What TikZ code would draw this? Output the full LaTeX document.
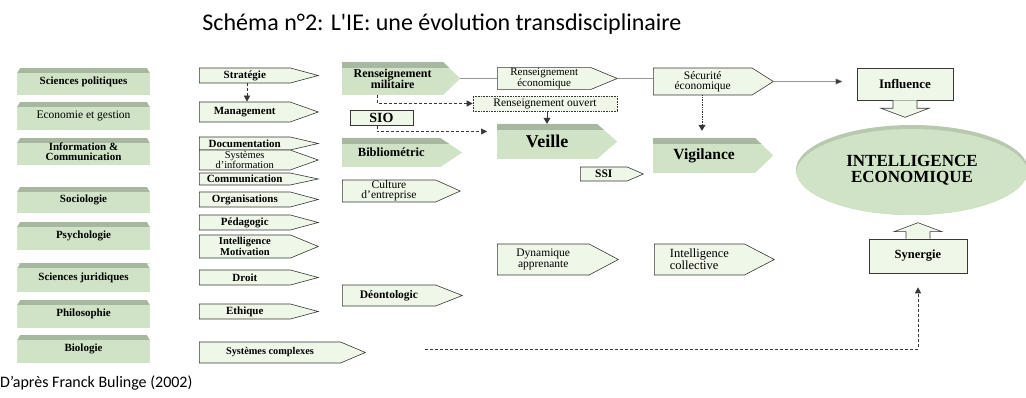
\documentclass[tikz,border=0pt]{standalone}
\usepackage{fontspec}
\usepackage{tikz}
\usepackage{xcolor}
\setmainfont{Liberation Serif}
\newfontfamily\calfont{Carlito}
\usetikzlibrary{calc,shapes.symbols,shapes.geometric,arrows.meta}
\definecolor{boxgreen}{RGB}{208,227,198}
\definecolor{bevelgreen}{RGB}{168,184,160}
\definecolor{palegreen}{RGB}{238,247,232}
\definecolor{edgegray}{RGB}{55,55,55}
\definecolor{linegray}{RGB}{150,150,150}

\begin{document}
\begin{tikzpicture}[x=1pt,y=-1pt,
        discnode/.style={rectangle, fill=boxgreen, minimum width=133pt, inner sep=0.5pt, align=center, font=\bfseries\fontsize{11}{10}\selectfont,
            path picture={\fill[bevelgreen] (path picture bounding box.north west) rectangle ([yshift=-5pt]path picture bounding box.north east);
                \fill[white] (path picture bounding box.north west) -- ++(3pt,0) -- ++(-3pt,-5pt) -- cycle;
                \fill[white] (path picture bounding box.north east) -- ++(-3pt,0) -- ++(3pt,-5pt) -- cycle;}},
        pointnode/.style={signal, signal to=east, anchor=west, fill=boxgreen, inner sep=0.5pt, align=center,
            path picture={\fill[bevelgreen] (path picture bounding box.north west) rectangle ([yshift=-6pt]path picture bounding box.north east);}},
        pentnode/.style={signal, signal to=east, anchor=west, draw=edgegray, fill=palegreen, line width=0.6pt, inner sep=0.5pt, align=center, font=\bfseries\fontsize{11}{10}\selectfont},
        plainbox/.style={rectangle, draw=edgegray, fill=palegreen, line width=0.6pt, inner sep=0.5pt, align=center}]
            \useasboundingbox (0,0) rectangle (1026,398);

            \node[font=\calfont\fontsize{24}{28}\selectfont] (T) at (442,24) {Schéma n°2: L\textquotesingle IE: une évolution transdisciplinaire};
            \node[anchor=west, inner sep=0pt, font=\calfont\fontsize{16}{19}\selectfont] (F) at (0,383) {D’après Franck Bulinge (2002)};

            \node[discnode, minimum height=27pt] (SP) at (83.5,81.5) {Sciences politiques};
            \node[discnode, minimum height=28pt, font=\fontsize{11.5}{12}\selectfont] (EG) at (83.5,116) {Economie et gestion};
            \node[discnode, minimum height=27pt] (IC) at (83.5,151.5) {Information \&\\Communication};
            \node[discnode, minimum height=26pt] (SO) at (83.5,200) {Sociologie};
            \node[discnode, minimum height=28pt] (PS) at (83.5,236) {Psychologie};
            \node[discnode, minimum height=29pt] (SJ) at (83.5,278) {Sciences juridiques};
            \node[discnode, minimum height=28pt] (PH) at (83.5,314) {Philosophie};
            \node[discnode, minimum height=28pt] (BI) at (83.5,349) {Biologie};

            \node[pentnode, minimum width=119pt, minimum height=15pt, signal pointer angle=30] (ST) at (199,75.5) {Stratégie};
            \node[pentnode, minimum width=119pt, minimum height=20pt, signal pointer angle=39] (MA) at (199,112) {Management};
            \node[pentnode, minimum width=119pt, minimum height=13pt, signal pointer angle=26] (DO) at (199,143.5) {Documentation};
            \node[pentnode, minimum width=119pt, minimum height=20pt, signal pointer angle=39, font=\fontsize{10.5}{9}\selectfont] (SI) at (199,160) {Systèmes\\d’information};
            \node[pentnode, minimum width=119pt, minimum height=12pt, signal pointer angle=24] (CM) at (199,179) {Communication};
            \node[pentnode, minimum width=119pt, minimum height=15pt, signal pointer angle=30] (OR) at (199,199.5) {Organisations};
            \node[pentnode, minimum width=119pt, minimum height=15pt, signal pointer angle=30] (PE) at (199,222.5) {Pédagogic};
            \node[pentnode, minimum width=119pt, minimum height=23pt, signal pointer angle=45, font=\bfseries\fontsize{10.5}{9.5}\selectfont] (IM) at (199,246.5) {Intelligence\\Motivation};
            \node[pentnode, minimum width=119pt, minimum height=15pt, signal pointer angle=30] (DR) at (199,277.5) {Droit};
            \node[pentnode, minimum width=119pt, minimum height=15pt, signal pointer angle=30] (ET) at (199,311.5) {Ethique};
            \node[pentnode, minimum width=166pt, minimum height=21pt, signal pointer angle=46, font=\bfseries\fontsize{10.3}{10}\selectfont] (SC) at (199,352.5) {Systèmes complexes};

            \node[pointnode, minimum width=118pt, minimum height=33pt, signal pointer angle=88, font=\bfseries\fontsize{12}{11}\selectfont] (RM) at (342,78.5) {Renseignement\\militaire};
            \node[plainbox, minimum width=63pt, minimum height=15pt, font=\bfseries\fontsize{14}{14}\selectfont] (SIO) at (381.5,118) {SIO};
            \node[pointnode, minimum width=120pt, minimum height=29pt, signal pointer angle=67, font=\bfseries\fontsize{12.5}{12}\selectfont] (BB) at (342,152.5) {Bibliométric};
            \node[pentnode, minimum width=118pt, minimum height=22pt, signal pointer angle=48, font=\fontsize{11.5}{10}\selectfont] (CE) at (342,191) {Culture\\d’entreprise};
            \node[pentnode, minimum width=120pt, minimum height=21pt, signal pointer angle=43, font=\bfseries\fontsize{11.5}{11}\selectfont] (DE) at (342,295.5) {Déontologic};

            \node[pentnode, minimum width=120pt, minimum height=21pt, signal pointer angle=45, font=\fontsize{11}{9.5}\selectfont] (RE) at (497,78.5) {Renseignement\\économique};
            \node[plainbox, densely dotted, minimum width=144pt, minimum height=15pt, font=\fontsize{11.5}{11}\selectfont] (RO) at (545,103.5) {Renseignement ouvert};
            \node[pointnode, minimum width=120pt, minimum height=35pt, signal pointer angle=82, font=\bfseries\fontsize{18}{18}\selectfont] (VE) at (497,141.5) {Veille};
            \node[pentnode, minimum width=63pt, minimum height=14pt, signal pointer angle=47, font=\bfseries\fontsize{11.5}{11}\selectfont] (SS) at (580,174) {SSI};
            \node[pentnode, minimum width=121pt, minimum height=31pt, signal pointer angle=56, font=\fontsize{11.5}{11}\selectfont] (DA) at (497,259.5) {Dynamique\\apprenante};

            \node[pentnode, minimum width=120pt, minimum height=27pt, signal pointer angle=65, font=\fontsize{11.5}{10.5}\selectfont] (SE) at (653,81.5) {Sécurité\\économique};
            \node[pointnode, minimum width=120pt, minimum height=35pt, signal pointer angle=88, font=\bfseries\fontsize{15.5}{15}\selectfont] (VG) at (653,155.5) {Vigilance};
            \node[pentnode, minimum width=120pt, minimum height=31pt, signal pointer angle=55, align=left, font=\fontsize{12.5}{12}\selectfont] (CO) at (654,259.5) {Intelligence\\collective};

            \node[plainbox, minimum width=96pt, minimum height=32pt, font=\bfseries\fontsize{13}{13}\selectfont] (IN) at (905,84) {Influence};
            \node[ellipse, fill=bevelgreen!60!boxgreen, minimum width=232pt, minimum height=90pt, font=\bfseries\fontsize{17}{16}\selectfont, align=center,
                path picture={\fill[boxgreen] ([yshift=-4pt]path picture bounding box.center) ellipse (116pt and 45pt);}] (IE) at (912,170) {INTELLIGENCE\\ECONOMIQUE};
            \node[plainbox, minimum width=98pt, minimum height=34pt, font=\bfseries\fontsize{12.5}{12}\selectfont] (SY) at (918,256) {Synergie};
            \coordinate (DS) at (425,349);

            \tikzset{dasharrow/.style={densely dashed, draw=edgegray, line width=0.6pt, -{Triangle[length=6pt,width=6pt]}}}
            \tikzset{blockarrow/.style={draw=edgegray, fill=palegreen, line width=0.6pt}}

            \draw[dasharrow] (ST.south -| 247,0) -- (MA.north -| 247,0);
            \draw[dasharrow] (RM.south -| 377,0) |- (RO.west);
            \draw[dasharrow, shorten >=10pt] (SIO.south -| 377,0) |- ([yshift=10pt]VE.west);
            \draw[draw=edgegray, line width=0.8pt, -{Triangle[length=6pt,width=7pt]}] (RO.south -| 547,0) -- (VE.north -| 547,0);
            \draw[densely dotted, draw=edgegray, line width=0.7pt, shorten >=7pt, -{Triangle[length=6pt,width=7pt]}] (SE.south -| 702,0) -- (VG.north -| 702,0);
            \draw[linegray, line width=0.4pt] (RM.east) -- (RE.west);
            \draw[linegray, line width=0.4pt] (RE.east) -- (RE.east -| SE.west);
            \draw[linegray, line width=0.4pt, shorten >=14pt, -{Triangle[length=7pt,width=6pt, fill=edgegray]}] (SE.east) -- (SE.east -| IN.west);
            \draw[dasharrow, shorten >=14pt] (DS) -| (SY.south);

            \draw[blockarrow] ([xshift=-12pt]IN.south) -- ++(0,8) -- ++(-12,0) -- ++(24,9) -- ++(24,-9) -- ++(-12,0) -- ++(0,-8);
            \draw[blockarrow] ([xshift=-12pt]SY.north) -- ++(0,-7) -- ++(-12,0) -- ++(24,-9) -- ++(24,9) -- ++(-12,0) -- ++(0,7);

        \end{tikzpicture}
\end{document}
